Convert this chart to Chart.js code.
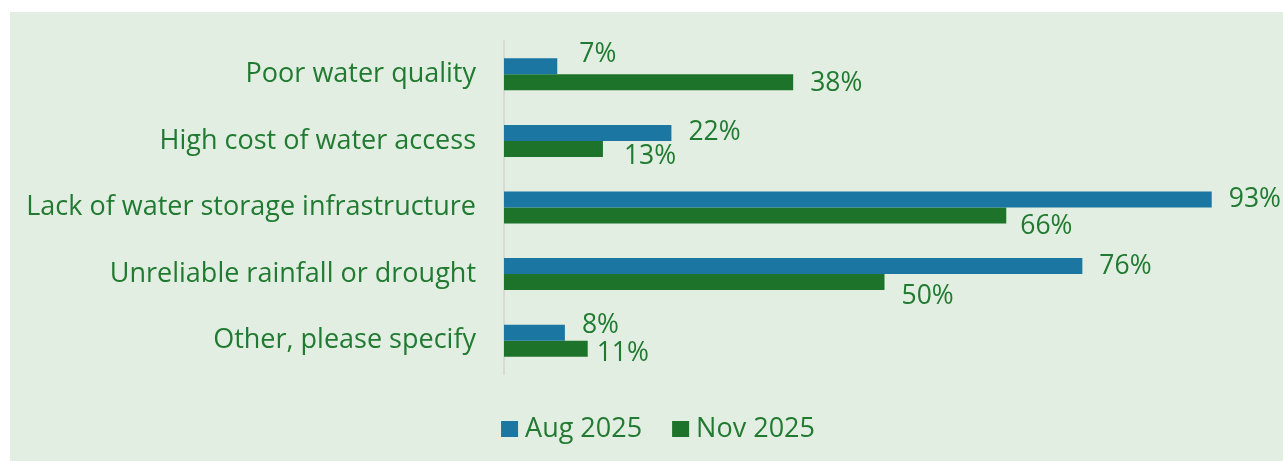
<!DOCTYPE html>
<html>
<head>
<meta charset="utf-8">
<script src="https://cdn.jsdelivr.net/npm/chart.js@4.4.1/dist/chart.umd.min.js"></script>
<style>
    html, body { margin: 0; padding: 0; background: #ffffff; }
    #wrap { position: absolute; left: 10px; top: 12px; width: 1273px; height: 449px; background: #e2eee1; }
</style>
</head>
<body>
<div id="wrap"><canvas id="chart" width="1273" height="449"></canvas></div>
<script>
const categories = [
    "Poor water quality",
    "High cost of water access",
    "Lack of water storage infrastructure",
    "Unreliable rainfall or drought",
    "Other, please specify"
];
const seriesNames = ["Aug 2025", "Nov 2025"];
const aug2025 = [7, 22, 93, 76, 8];
const nov2025 = [38, 13, 66, 50, 11];

// label nudges (px) so neighbouring value labels don't collide
const labelShift = [
    { dx: [5, 0, 0, 0, 0], dy: [-12, 0, 0, 0, -7] },
    { dx: [0, 4, -3, 0, -8], dy: [1, 8, 11, 14, 5] }
];

const FONT = "'Open Sans', Arial, sans-serif";
const TEXT_GREEN = "#217a31";

const valueLabels = {
    id: "valueLabels",
    afterDatasetsDraw(chart) {
        const ctx = chart.ctx;
        ctx.save();
        ctx.font = "26.5px " + FONT;
        ctx.fillStyle = TEXT_GREEN;
        ctx.textAlign = "left";
        ctx.textBaseline = "middle";
        chart.data.datasets.forEach((ds, di) => {
            chart.getDatasetMeta(di).data.forEach((bar, i) => {
                const s = labelShift[di];
                ctx.fillText(ds.data[i] + "%", bar.x + 17 + s.dx[i], bar.y + s.dy[i]);
            });
        });
        ctx.restore();
    }
};

// simple legend row under the plot: square swatch, small gap, series name
const bottomLegend = {
    id: "bottomLegend",
    afterDraw(chart) {
        const ctx = chart.ctx;
        const box = { w: 17, h: 16, gap: 7 };
        const itemGap = 30;
        const cx = 648, cy = 417;
        ctx.save();
        ctx.font = "27px " + FONT;
        ctx.textBaseline = "middle";
        ctx.textAlign = "left";
        const items = chart.data.datasets.map(ds => ({
            text: ds.label,
            color: ds.backgroundColor,
            w: box.w + box.gap + ctx.measureText(ds.label).width
        }));
        const total = items.reduce((s, it) => s + it.w, 0) + itemGap * (items.length - 1);
        let x = cx - total / 2;
        items.forEach(it => {
            ctx.fillStyle = it.color;
            ctx.fillRect(x, cy - box.h / 2, box.w, box.h);
            ctx.fillStyle = TEXT_GREEN;
            ctx.fillText(it.text, x + box.w + box.gap, cy);
            x += it.w + itemGap;
        });
        ctx.restore();
    }
};

new Chart(document.getElementById("chart").getContext("2d"), {
    type: "bar",
    data: {
        labels: categories,
        datasets: [
            {
                label: seriesNames[0],
                data: aug2025,
                backgroundColor: "#1c76a2",
                borderWidth: 0
            },
            {
                label: seriesNames[1],
                data: nov2025,
                backgroundColor: "#1d7329",
                borderWidth: 0
            }
        ]
    },
    options: {
        indexAxis: "y",
        responsive: false,
        animation: false,
        layout: {
            padding: { top: 29, right: 18, bottom: 87, left: 0 }
        },
        datasets: {
            bar: { barPercentage: 1, categoryPercentage: 0.48 }
        },
        scales: {
            x: {
                display: false,
                min: 0,
                max: 100
            },
            y: {
                afterFit(scale) {
                    scale.width = 494;
                    scale.paddingTop = 0;
                    scale.paddingBottom = 0;
                },
                grid: { display: false },
                border: { display: true, color: "#d6d9d6", width: 2 },
                ticks: {
                    padding: 20,
                    color: TEXT_GREEN,
                    font: { family: FONT, size: 27 }
                }
            }
        },
        plugins: {
            legend: { display: false },
            tooltip: { enabled: false }
        }
    },
    plugins: [valueLabels, bottomLegend]
});
</script>
</body>
</html>
